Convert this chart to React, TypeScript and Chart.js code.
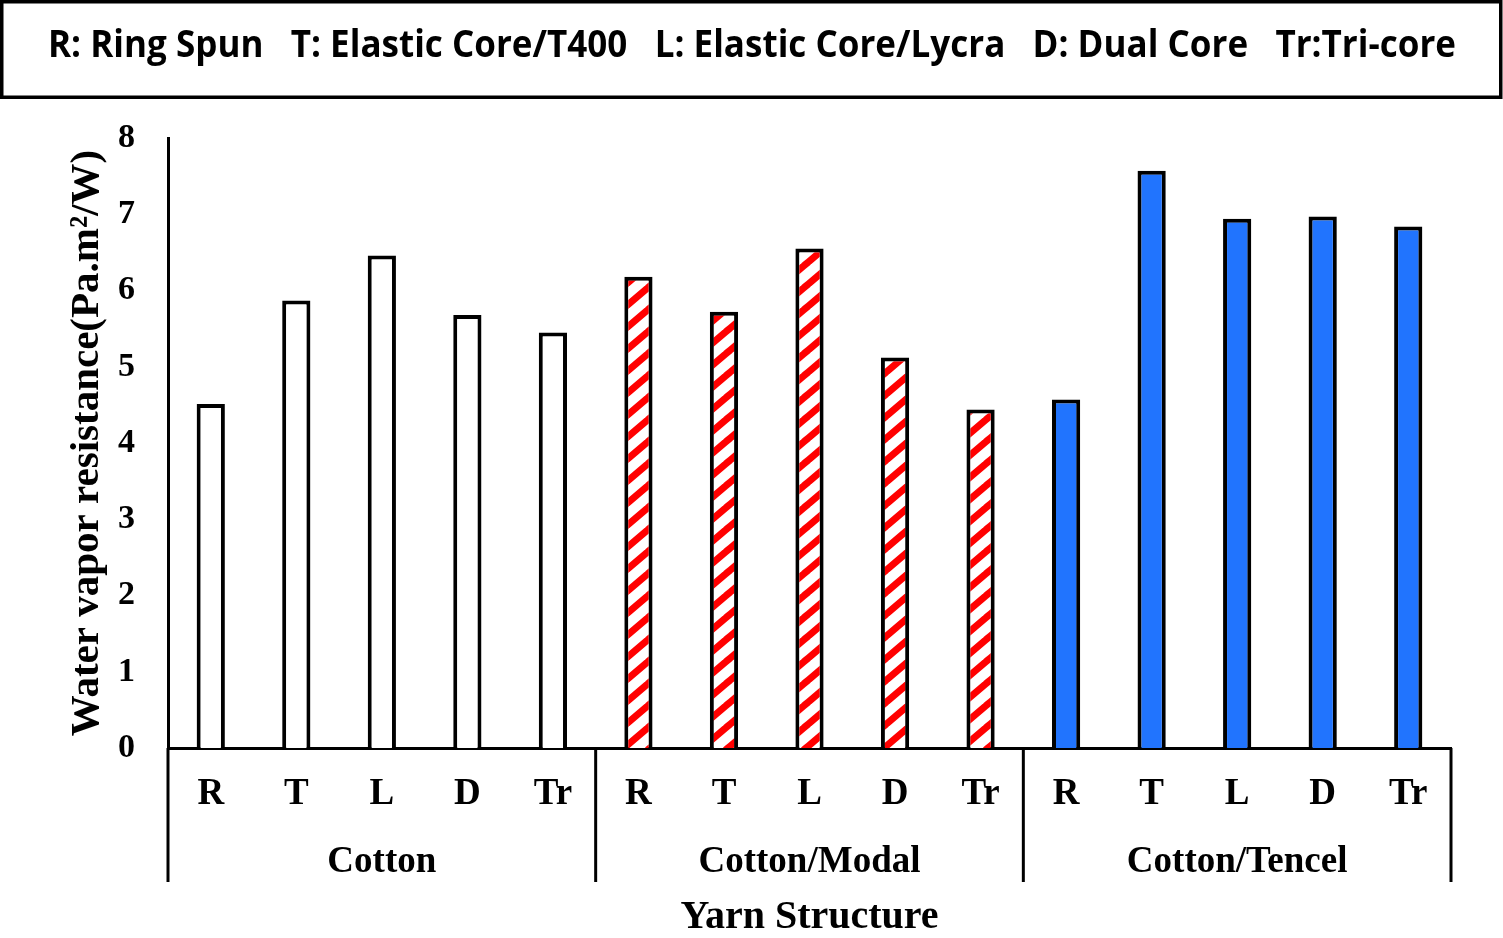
import React, { useEffect, useRef } from "react";
import { Chart, registerables } from "chart.js";

Chart.register(...registerables);

const structures = ["R", "T", "L", "D", "Tr"];
const groups = ["Cotton", "Cotton/Modal", "Cotton/Tencel"];
const cottonValues = [4.51, 5.87, 6.46, 5.68, 5.45];
const modalValues = [6.18, 5.72, 6.55, 5.12, 4.44];
const tencelValues = [4.57, 7.57, 6.94, 6.97, 6.84];
const legendText = "R: Ring Spun   T: Elastic Core/T400   L: Elastic Core/Lycra   D: Dual Core   Tr:Tri-core";
const yTitle = "Water vapor resistance(Pa.m\u00B2/W)";
const xTitle = "Yarn Structure";

const SERIF = "'Liberation Serif', 'Times New Roman', serif";

function makeStripePattern(ctx: CanvasRenderingContext2D): CanvasPattern | string {
  const w = 26;
  const h = 22;
  const c = document.createElement("canvas");
  c.width = w;
  c.height = h;
  const g = c.getContext("2d");
  if (!g) return "#ff0000";
  g.fillStyle = "#ffffff";
  g.fillRect(0, 0, w, h);
  g.strokeStyle = "#ff0000";
  g.lineWidth = 7;
  g.lineCap = "square";
  for (const dx of [-w, 0, w]) {
    g.beginPath();
    g.moveTo(dx, h);
    g.lineTo(dx + w, 0);
    g.stroke();
  }
  return ctx.createPattern(c, "repeat") || "#ff0000";
}

export default function App() {
  const ref = useRef<HTMLCanvasElement | null>(null);

  useEffect(() => {
    const canvas = ref.current;
    if (!canvas) return;
    const ctx = canvas.getContext("2d");
    if (!ctx) return;
    const stripe = makeStripePattern(ctx);

    const labels: string[] = [];
    groups.forEach(() => structures.forEach((s) => labels.push(s)));
    const values = [...cottonValues, ...modalValues, ...tencelValues];
    const colors: (string | CanvasPattern)[] = [
      ...cottonValues.map(() => "#ffffff"),
      ...modalValues.map(() => stripe),
      ...tencelValues.map(() => "#2174FE"),
    ];

    const decor = {
      id: "decor",
      beforeDraw(chart: any) {
        const c = chart.ctx as CanvasRenderingContext2D;
        c.save();
        c.fillStyle = "#ffffff";
        c.fillRect(0, 0, chart.width, chart.height);
        c.strokeStyle = "#000000";
        c.lineWidth = 3.5;
        c.strokeRect(1.75, 1.75, 1499, 95.5);
        c.font = "bold 37px 'Open Sans', sans-serif";
        c.fillStyle = "#000000";
        c.textBaseline = "alphabetic";
        c.textAlign = "left";
        const natural = c.measureText(legendText).width;
        const sx = 1408 / natural;
        c.translate(48, 57);
        c.scale(sx, 1);
        c.fillText(legendText, 0, 0);
        c.restore();
      },
      afterDraw(chart: any) {
        const c = chart.ctx as CanvasRenderingContext2D;
        const x = chart.scales.x;
        const area = chart.chartArea;
        c.save();
        c.strokeStyle = "#000000";
        c.lineWidth = 3;
        const seps: number[] = [area.left];
        for (let gi = 1; gi < groups.length; gi++) {
          const i = gi * structures.length;
          seps.push((x.getPixelForValue(i - 1) + x.getPixelForValue(i)) / 2);
        }
        seps.push(area.right);
        seps.forEach((px) => {
          c.beginPath();
          c.moveTo(px, area.bottom);
          c.lineTo(px, 882);
          c.stroke();
        });
        c.fillStyle = "#000000";
        c.font = "bold 37px " + SERIF;
        c.textAlign = "center";
        c.textBaseline = "alphabetic";
        groups.forEach((g, gi) => {
          const a = gi * structures.length;
          const b = a + structures.length - 1;
          const cx = (x.getPixelForValue(a) + x.getPixelForValue(b)) / 2;
          c.fillText(g, cx, 872);
        });
        c.restore();
      },
    };

    const chart = new Chart(ctx, {
      type: "bar",
      data: {
        labels,
        datasets: [
          {
            data: values,
            backgroundColor: colors as any,
            borderColor: "#000000",
            borderWidth: 4,
            barPercentage: 0.33,
            categoryPercentage: 1,
          },
        ],
      },
      options: {
        responsive: false,
        animation: false,
        devicePixelRatio: 1,
        layout: { padding: { top: 138, right: 52, bottom: 0, left: 0 } },
        plugins: {
          legend: { display: false },
          tooltip: { enabled: false },
        },
        scales: {
          x: {
            grid: { display: false, drawTicks: false },
            border: { display: true, color: "#000000", width: 3 },
            ticks: {
              color: "#000000",
              font: { family: SERIF, size: 37, weight: "bold" },
              padding: 24,
              maxRotation: 0,
              autoSkip: false,
            },
            title: {
              display: true,
              text: xTitle,
              color: "#000000",
              font: { family: SERIF, size: 40, weight: "bold", lineHeight: 1 },
              padding: { top: 0, bottom: 0 },
            },
            afterFit(scale: any) {
              scale.height = 190;
            },
          },
          y: {
            min: 0,
            max: 8,
            grid: { display: false, drawTicks: false },
            border: { display: true, color: "#000000", width: 3 },
            ticks: {
              stepSize: 1,
              color: "#000000",
              font: { family: SERIF, size: 34, weight: "bold" },
              padding: 33,
            },
            title: {
              display: true,
              text: yTitle,
              color: "#000000",
              font: { family: SERIF, size: 41, weight: "bold", lineHeight: 1.2 },
              padding: { top: 63, bottom: 0 },
            },
            afterFit(scale: any) {
              scale.width = 168;
            },
          },
        },
      },
      plugins: [decor],
    });

    return () => chart.destroy();
  }, []);

  return (
    <div style={{ position: "fixed", left: 0, top: 0, width: 1503, height: 938, background: "#fff" }}>
      <canvas ref={ref} width={1503} height={938} style={{ width: 1503, height: 938, display: "block" }} />
    </div>
  );
}
